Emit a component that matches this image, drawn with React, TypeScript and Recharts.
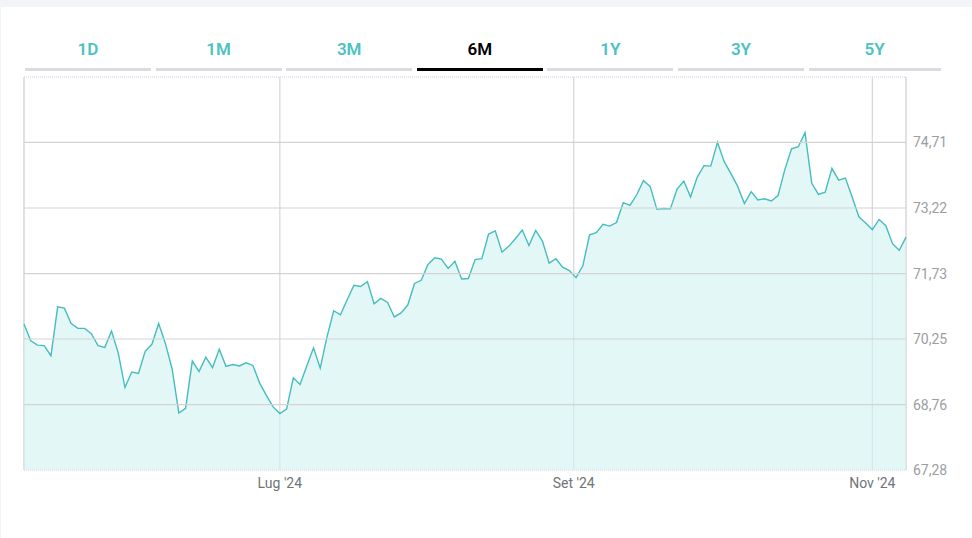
import React from "react";
import {
  AreaChart,
  Area,
  XAxis,
  YAxis,
  CartesianGrid,
  ReferenceLine,
  ReferenceArea,
} from "recharts";

const prices: number[] = [
  70.59, 70.21, 70.11, 70.1, 69.87, 70.98, 70.95, 70.6, 70.49, 70.49,
  70.37, 70.1, 70.06, 70.43, 69.93, 69.15, 69.5, 69.47, 69.97, 70.13,
  70.6, 70.15, 69.57, 68.57, 68.68, 69.75, 69.51, 69.84, 69.6, 70.02,
  69.63, 69.67, 69.64, 69.71, 69.65, 69.25, 68.97, 68.71, 68.56, 68.66,
  69.37, 69.22, 69.64, 70.05, 69.59, 70.3, 70.89, 70.8, 71.14, 71.47,
  71.44, 71.55, 71.05, 71.17, 71.08, 70.75, 70.84, 71.02, 71.51, 71.58,
  71.94, 72.09, 72.06, 71.85, 72.01, 71.61, 71.62, 72.05, 72.07, 72.63,
  72.7, 72.22, 72.35, 72.53, 72.72, 72.37, 72.71, 72.47, 71.97, 72.07,
  71.88, 71.8, 71.64, 71.91, 72.61, 72.66, 72.85, 72.81, 72.89, 73.34,
  73.28, 73.52, 73.84, 73.71, 73.19, 73.21, 73.2, 73.65, 73.83, 73.47,
  73.92, 74.18, 74.17, 74.71, 74.27, 74.0, 73.71, 73.32, 73.59, 73.4,
  73.43, 73.38, 73.5, 74.09, 74.56, 74.61, 74.93, 73.78, 73.53, 73.58,
  74.12, 73.85, 73.9, 73.47, 73.02, 72.88, 72.73, 72.96, 72.82, 72.41,
  72.26, 72.56,
];

const data = prices.map((v, i) => ({ i, v }));

const xTickPositions: number[] = [38, 81.65, 126];
const xTickLabels: string[] = ["Lug '24", "Set '24", "Nov '24"];

const yTicks: number[] = [67.28, 68.76, 70.25, 71.73, 73.22, 74.71];
const yMax = 76.19;

const tabs: string[] = ["1D", "1M", "3M", "6M", "1Y", "3Y", "5Y"];
const activeTab = "6M";

const TEAL = "#45bdbd";

export default function App() {
  return (
    <div
      style={{
        position: "absolute",
        left: 0,
        top: 0,
        width: 972,
        height: 538,
        background: "#f3f4f6",
        overflow: "hidden",
        fontFamily: "Roboto, sans-serif",
      }}
    >
      <div
        style={{
          position: "absolute",
          left: 1,
          top: 7,
          width: 971,
          height: 531,
          background: "#ffffff",
        }}
      />
      {tabs.map((t, k) => {
        const left = 25 + k * 130.6;
        const width = k === tabs.length - 1 ? 132 : 126;
        const active = t === activeTab;
        return (
          <div
            key={t}
            style={{
              position: "absolute",
              left,
              top: 36,
              width,
              height: 35,
              boxSizing: "border-box",
              borderBottom: active ? "3px solid #000000" : "3px solid #d9dde2",
              textAlign: "center",
              fontSize: 17,
              fontWeight: 600,
              lineHeight: "26px",
              color: active ? "#000000" : "#4cc2c2",
            }}
          >
            {t}
          </div>
        );
      })}
      <div style={{ position: "absolute", left: 0, top: 0 }}>
        <AreaChart
          width={972}
          height={538}
          data={data}
          margin={{ top: 77, left: 24, right: 6, bottom: 38 }}
        >
          <CartesianGrid horizontal={false} stroke="#d3d7da" strokeWidth={1.2} />
          <ReferenceArea
            x1={0}
            x2={prices.length - 1}
            y1={yTicks[0]}
            y2={yMax}
            fill="none"
            stroke="#cfcfcf"
            strokeDasharray="1 1"
          />
          {yTicks.slice(1).map((v) => (
            <ReferenceLine key={v} y={v} stroke="#d3d3d3" strokeWidth={1.2} />
          ))}
          <XAxis
            dataKey="i"
            type="number"
            domain={[0, prices.length - 1]}
            ticks={xTickPositions}
            tickFormatter={(v: number) => xTickLabels[xTickPositions.indexOf(v)] ?? ""}
            axisLine={false}
            tickLine={false}
            tickSize={0}
            tickMargin={8}
            tick={{ fill: "#70757a", fontSize: 14, fontFamily: "Roboto, sans-serif" }}
            interval={0}
          />
          <YAxis
            orientation="right"
            type="number"
            domain={[yTicks[0], yMax]}
            ticks={yTicks}
            tickFormatter={(v: number) => v.toFixed(2).replace(".", ",")}
            axisLine={false}
            tickLine={false}
            tickSize={0}
            tickMargin={7}
            width={60}
            interval={0}
            tick={{ fill: "#9a9ea3", fontSize: 14, fontFamily: "Roboto, sans-serif", textAnchor: "start" }}
          />
          <Area
            type="linear"
            dataKey="v"
            stroke={TEAL}
            strokeWidth={1.4}
            fill="#d0f2f2"
            fillOpacity={0.6}
            baseValue={yTicks[0]}
            dot={false}
            activeDot={false}
            isAnimationActive={false}
          />
        </AreaChart>
      </div>
    </div>
  );
}
